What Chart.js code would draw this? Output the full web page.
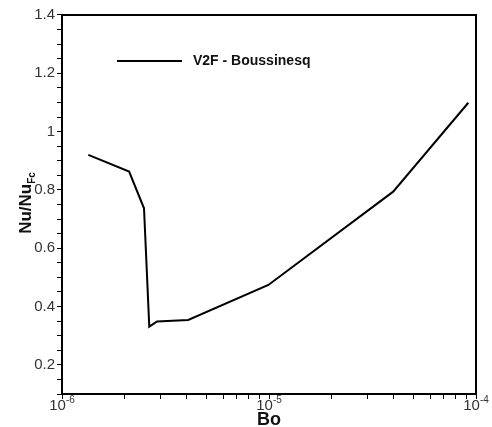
<!DOCTYPE html>
<html>
<head>
<meta charset="utf-8">
<script src="https://cdn.jsdelivr.net/npm/chart.js@4.4.1/dist/chart.umd.min.js"></script>
<style>
  html, body { margin: 0; padding: 0; background: #fff; }
  #wrap { width: 492px; height: 427px; position: relative; }
</style>
</head>
<body>
<div id="wrap"><canvas id="c" width="492" height="427"></canvas></div>
<script>
// ---- data ----
const bo = [1.34e-6, 2.11e-6, 2.49e-6, 2.64e-6, 2.88e-6, 4.07e-6, 9.93e-6, 3.98e-5, 9.18e-5];
const nuRatio = [0.920, 0.863, 0.737, 0.331, 0.349, 0.354, 0.474, 0.794, 1.099];
const seriesName = 'V2F - Boussinesq';
const xDecades = [1e-6, 1e-5, 1e-4];
const xDecadeLabels = ['-6', '-5', '-4'];
const yMajorTicks = [0.2, 0.4, 0.6, 0.8, 1.0, 1.2, 1.4];
const xTitle = 'Bo';
const yTitleMain = 'Nu/Nu';
const yTitleSub = 'Fc';

const FONT = '"Liberation Sans", Arial, Helvetica, sans-serif';

const points = bo.map((x, i) => ({ x: x, y: nuRatio[i] }));

// x tick values: 1..9 per decade
const xTickVals = [];
for (let d = 0; d < xDecades.length; d++) {
  for (let m = 1; m <= 9; m++) {
    const v = xDecades[d] * m;
    if (v <= xDecades[xDecades.length - 1] * 1.0000001) xTickVals.push(v);
  }
}

const decorPlugin = {
  id: 'decor',
  afterDraw(chart) {
    const ctx = chart.ctx;
    const a = chart.chartArea;
    const xs = chart.scales.x;
    ctx.save();
    // frame
    ctx.strokeStyle = '#000';
    ctx.lineWidth = 2;
    ctx.strokeRect(a.left, a.top, a.right - a.left, a.bottom - a.top);

    // x decade labels with superscripts
    ctx.fillStyle = '#333';
    ctx.textBaseline = 'alphabetic';
    ctx.textAlign = 'left';
    xDecades.forEach((v, i) => {
      const px = xs.getPixelForValue(v);
      ctx.font = '15px ' + FONT;
      const wb = ctx.measureText('10').width;
      ctx.font = '10px ' + FONT;
      const we = ctx.measureText(xDecadeLabels[i]).width;
      const start = px - (wb + we) / 2;
      ctx.font = '15px ' + FONT;
      ctx.fillText('10', start, 410);
      ctx.font = '10px ' + FONT;
      ctx.fillText(xDecadeLabels[i], start + wb, 403);
    });

    // x title
    ctx.fillStyle = '#111';
    ctx.font = 'bold 18px ' + FONT;
    ctx.textAlign = 'center';
    ctx.fillText(xTitle, (a.left + a.right) / 2, 425);

    // y title (rotated with subscript)
    ctx.save();
    ctx.translate(31, 203);
    ctx.rotate(-Math.PI / 2);
    ctx.font = 'bold 17px ' + FONT;
    const wm = ctx.measureText(yTitleMain).width;
    ctx.font = 'bold 10px ' + FONT;
    const ws = ctx.measureText(yTitleSub).width;
    const s0 = -(wm + ws) / 2;
    ctx.textAlign = 'left';
    ctx.font = 'bold 17px ' + FONT;
    ctx.fillText(yTitleMain, s0, 0);
    ctx.font = 'bold 10px ' + FONT;
    ctx.fillText(yTitleSub, s0 + wm, 4);
    ctx.restore();

    // legend
    ctx.strokeStyle = '#000';
    ctx.lineWidth = 2;
    ctx.beginPath();
    ctx.moveTo(117, 61);
    ctx.lineTo(182, 61);
    ctx.stroke();
    ctx.fillStyle = '#111';
    ctx.font = 'bold 14px ' + FONT;
    ctx.textAlign = 'left';
    ctx.textBaseline = 'middle';
    ctx.fillText(seriesName, 193, 61);
    ctx.restore();
  }
};

new Chart(document.getElementById('c'), {
  type: 'scatter',
  data: {
    datasets: [{
      label: seriesName,
      data: points,
      showLine: true,
      borderColor: '#000',
      backgroundColor: '#000',
      borderWidth: 2,
      pointRadius: 0,
      tension: 0
    }]
  },
  options: {
    responsive: false,
    animation: false,
    devicePixelRatio: 1,
    layout: { padding: { top: 15, right: 16, left: 0, bottom: 0 } },
    plugins: {
      legend: { display: false },
      tooltip: { enabled: false }
    },
    scales: {
      x: {
        type: 'logarithmic',
        min: 1e-6,
        max: 1e-4,
        afterBuildTicks(scale) {
          scale.ticks = xTickVals.map(v => ({ value: v }));
        },
        afterFit(scale) { scale.height = 33; },
        ticks: {
          autoSkip: false,
          maxRotation: 0,
          callback: () => ''
        },
        grid: {
          drawOnChartArea: false,
          drawTicks: true,
          tickLength: 5,
          tickColor: '#000',
          tickWidth: 1
        },
        border: { display: true, color: '#000', width: 2 }
      },
      y: {
        type: 'linear',
        min: 0.1,
        max: 1.4,
        afterBuildTicks(scale) {
          const t = [];
          for (let k = 2; k <= 28; k++) t.push({ value: k * 0.05 });
          scale.ticks = t;
        },
        afterFit(scale) { scale.width = 62; },
        ticks: {
          autoSkip: false,
          padding: 2,
          color: '#333',
          font: { family: FONT, size: 15 },
          callback: function (v) {
            const r = Math.round(v * 100) / 100;
            const isMajor = yMajorTicks.some(m => Math.abs(m - r) < 1e-6);
            if (!isMajor) return '';
            return Math.abs(r - 1) < 1e-6 ? '1' : String(r);
          }
        },
        grid: {
          drawOnChartArea: false,
          drawTicks: true,
          tickLength: 5,
          tickColor: '#000',
          tickWidth: 1
        },
        border: { display: true, color: '#000', width: 2 }
      }
    }
  },
  plugins: [decorPlugin]
});
</script>
</body>
</html>
